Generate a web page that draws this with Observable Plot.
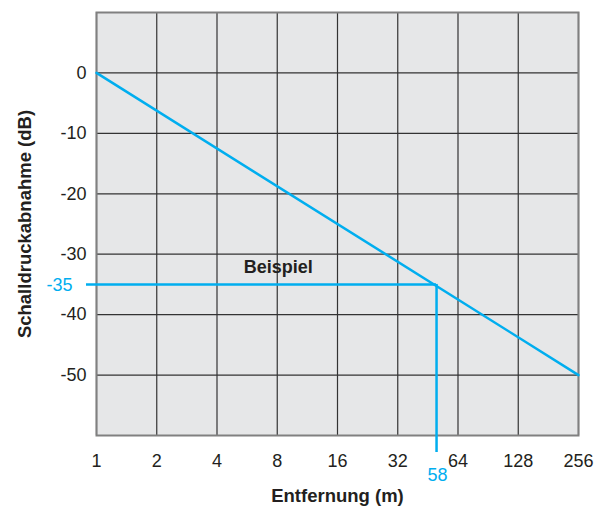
<!DOCTYPE html>
<html>
<head>
<meta charset="utf-8">
<script src="https://cdn.jsdelivr.net/npm/d3@7"></script>
<script src="https://cdn.jsdelivr.net/npm/@observablehq/plot@0.6"></script>
<style>
  html, body { margin: 0; padding: 0; background: #fff; }
</style>
</head>
<body>
<div id="chart"></div>
<script>
// Data
const xTicks = [1, 2, 4, 8, 16, 32, 64, 128, 256];
const yTicks = [0, -10, -20, -30, -40, -50];
const lineDistance = [1, 256];
const lineDb = [0, -50];
const exampleDb = -35;
const exampleDistance = 50;        // where the example line meets the curve
const exampleDistanceLabel = "58"; // label printed under the axis
const exampleTitle = "Beispiel";
const exampleTitleX = 8.1;
const exampleTitleY = -32.2;
const xLabel = "Entfernung (m)";
const yLabel = "Schalldruckabnahme (dB)";

const cyan = "#00aeef";
const lineData = lineDistance.map((d, i) => ({x: d, y: lineDb[i]}));

const chart = Plot.plot({
  width: 599,
  height: 506,
  marginLeft: 96,
  marginRight: 21,
  marginTop: 12,
  marginBottom: 71,
  style: {fontFamily: "'Liberation Sans', Arial, sans-serif", fontSize: "18px", color: "#231f20", background: "#fff"},
  x: {type: "log", base: 2, domain: [1, 256]},
  y: {domain: [-60, 10]},
  marks: [
    Plot.frame({fill: "#e6e7e8"}),
    Plot.ruleX(xTicks, {stroke: "#333", strokeWidth: 1.2}),
    Plot.ruleY(yTicks, {stroke: "#333", strokeWidth: 1.2}),
    Plot.frame({stroke: "#808080", strokeWidth: 2}),
    Plot.axisX({ticks: xTicks, tickSize: 0, tickPadding: 19, tickFormat: d => String(d), label: null, fill: "#231f20"}),
    Plot.axisY({ticks: yTicks, tickSize: 0, tickPadding: 10, tickFormat: d => String(d), label: null, fill: "#231f20"}),
    Plot.line(lineData, {x: "x", y: "y", stroke: cyan, strokeWidth: 2.5}),
    Plot.ruleY([exampleDb], {x1: xTicks[0], x2: exampleDistance, stroke: cyan, strokeWidth: 2.5, insetLeft: -10}),
    Plot.ruleX([exampleDistance], {y1: exampleDb, y2: -60, stroke: cyan, strokeWidth: 2.5, insetBottom: -17}),
    Plot.text([exampleDb], {y: d => d, text: d => String(d), frameAnchor: "left", dx: -24, dy: 1, textAnchor: "end", lineAnchor: "middle", fill: cyan}),
    Plot.text([exampleDistanceLabel], {x: exampleDistance, y: -60, text: d => d, dy: 40, dx: 1, fill: cyan}),
    Plot.text([exampleTitle], {x: exampleTitleX, y: exampleTitleY, text: d => d, fontWeight: "bold", fill: "#231f20"}),
    Plot.text([xLabel], {frameAnchor: "bottom", text: d => d, dy: 61, textAnchor: "middle", lineAnchor: "middle", fontWeight: "bold", fontSize: 18.5, fill: "#231f20"}),
    Plot.text([yLabel], {frameAnchor: "left", text: d => d, rotate: -90, dx: -71, dy: 0, textAnchor: "middle", lineAnchor: "middle", fontWeight: "bold", fontSize: 18.5, fill: "#231f20"})
  ]
});
document.getElementById("chart").appendChild(chart);
</script>
</body>
</html>
